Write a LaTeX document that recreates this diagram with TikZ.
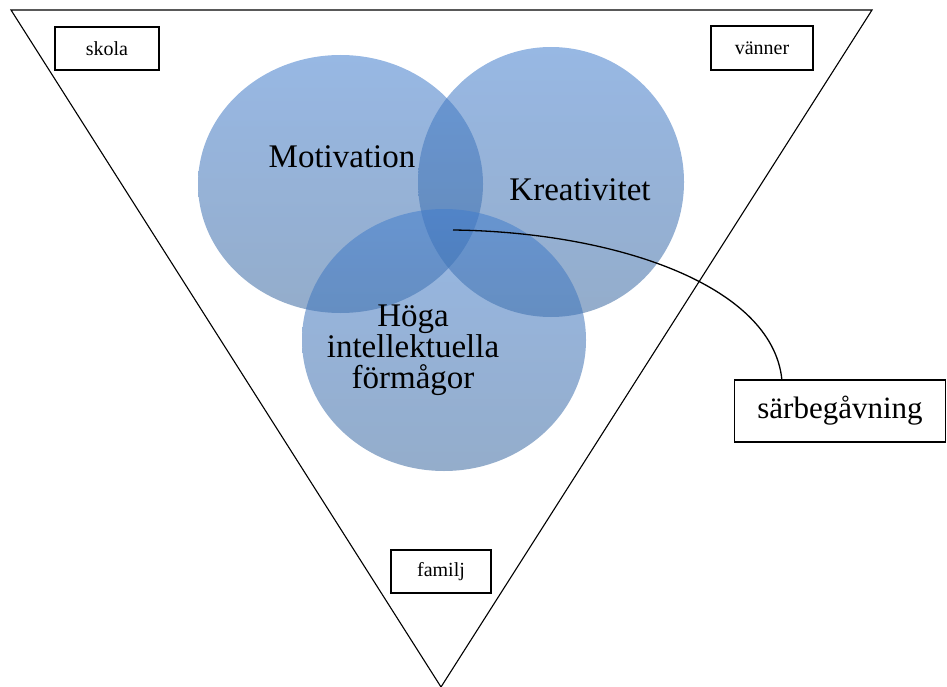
\documentclass[tikz,border=0pt]{standalone}
\usepackage{fontspec}
\setmainfont{Liberation Serif}
\usetikzlibrary{calc}
\begin{document}
\begin{tikzpicture}[x=1pt,y=-1pt,
  lbl/.style={draw=black,line width=1.3pt,fill=white,minimum width=#1,inner sep=0pt,font=\fontsize{20}{22}\selectfont},
  blob/.style={top color={rgb,255:red,66;green,125;blue,205},bottom color={rgb,255:red,60;green,105;blue,160},fill opacity=0.55,draw=none},
  big/.style={font=\fontsize{33}{33}\selectfont,text=black,inner sep=0pt,align=center}]
\useasboundingbox (0,0) rectangle (947,687);
% circles
\path[blob] (340.5,184) ellipse [x radius=142.5, y radius=129];
\path[blob] (551,182) ellipse [x radius=133, y radius=135];
\path[blob] (444,340) ellipse [x radius=142, y radius=131];
% triangle
\draw[line width=1.1pt,line join=miter] (11,10) -- (872,10) -- (441,687) -- cycle;
% labels
\node[big] (mot) at (342,157) {Motivation};
\node[big] (kre) at (580,190) {Kreativitet};
\node[big] (hog) at (413,350) {Höga\\[-2pt]intellektuella\\[-2pt]förmågor};
\node[lbl=104pt,minimum height=43pt] (skola) at (107,48.5) {skola};
\node[lbl=102pt,minimum height=44pt] (vanner) at (762,48) {vänner};
\node[lbl=100pt,minimum height=43pt] (familj) at (441,571.5) {familj};
\node[lbl=211pt,minimum height=62pt,font=\fontsize{31}{33}\selectfont] (sb) at (840,411) {särbegåvning};
% connector
\coordinate (core) at (453,230);
\draw[line width=1.3pt] (core) .. controls (615,232) and (772,285) .. ($(sb.north west)+(48,0)$);
\end{tikzpicture}
\end{document}
